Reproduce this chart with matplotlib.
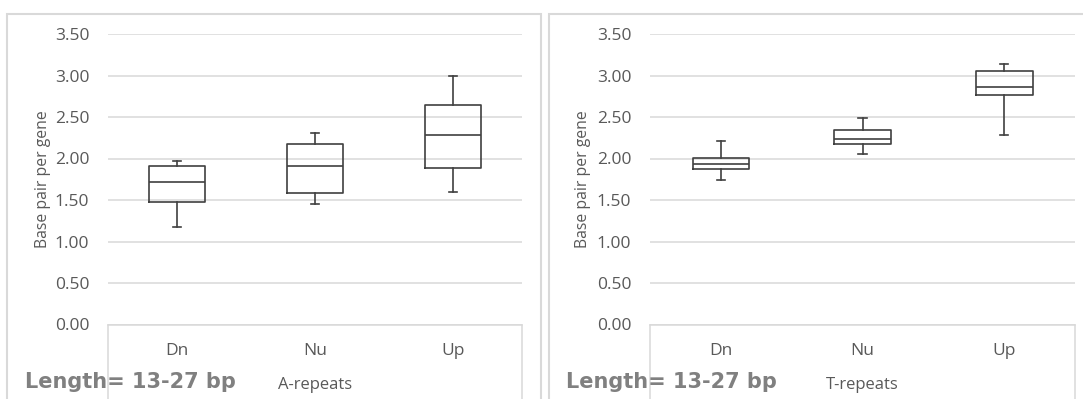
import matplotlib
matplotlib.use("Agg")
import matplotlib.pyplot as plt
from matplotlib.patches import Rectangle

# box-plot summaries per gene group (base pairs per gene)
GROUPS = ["Dn", "Nu", "Up"]

A_WHISLO = [1.18, 1.45, 1.60]
A_Q1 = [1.48, 1.59, 1.88]
A_MED = [1.72, 1.91, 2.28]
A_Q3 = [1.91, 2.17, 2.65]
A_WHISHI = [1.97, 2.31, 2.99]

T_WHISLO = [1.74, 2.06, 2.28]
T_Q1 = [1.87, 2.17, 2.77]
T_MED = [1.93, 2.24, 2.86]
T_Q3 = [2.01, 2.34, 3.06]
T_WHISHI = [2.21, 2.49, 3.14]

YTICKS = [0.0, 0.5, 1.0, 1.5, 2.0, 2.5, 3.0, 3.5]

GRID = "#d9d9d9"
TXT = "#595959"
BOX = "#404040"
NOTE = "#808080"

W, H = 1083, 399
plt.rcParams["font.family"] = ["Open Sans", "DejaVu Sans"]


def stats(lo, q1, med, q3, hi):
    return [dict(whislo=a, q1=b, med=c, q3=d, whishi=e, fliers=[])
            for a, b, c, d, e in zip(lo, q1, med, q3, hi)]


def panel(fig, rect_px, data, xlabel):
    x0, x1, ytop, ybot = rect_px
    ax = fig.add_axes([x0 / W, 1 - ybot / H, (x1 - x0) / W, (ybot - ytop) / H])
    line = dict(color=BOX, linewidth=1.2)
    ax.bxp(data, positions=range(len(GROUPS)), widths=0.4, capwidths=0.06,
           showfliers=False, boxprops=line, medianprops=line,
           whiskerprops=line, capprops=line)
    ax.set_xlim(-0.5, len(GROUPS) - 0.5)
    ax.set_ylim(0, 3.5)
    ax.set_yticks(YTICKS)
    ax.set_yticklabels(["%.2f" % v for v in YTICKS])
    ax.set_xticks(range(len(GROUPS)))
    ax.set_xticklabels(GROUPS)
    ax.tick_params(length=0, colors=TXT, labelsize=12.5)
    ax.tick_params(axis="y", pad=13.5)
    ax.tick_params(axis="x", pad=13.5)
    ax.grid(True, axis="y", color=GRID, linewidth=1.1)
    ax.set_axisbelow(True)
    for s in ax.spines.values():
        s.set_visible(False)
    # category-axis box running below the plot
    for xx in (0, 1):
        ax.plot([xx, xx], [0, -0.35], transform=ax.transAxes, color=GRID,
                lw=1.1, clip_on=False)
    ax.plot([0, 1], [0, 0], transform=ax.transAxes, color=GRID, lw=1.1,
            clip_on=False)
    ax.text(0.5, -0.208, xlabel, transform=ax.transAxes, ha="center",
            va="center", fontsize=12, color=TXT)
    ax.text(-0.158, 0.5, "Base pair per gene", transform=ax.transAxes,
            rotation=90, ha="center", va="center", fontsize=11.3, color=TXT)
    return ax


fig = plt.figure(figsize=(W / 100, H / 100), dpi=100)

# outer chart frames
for fx0, fx1 in ((7, 541), (549, 1100)):
    fig.patches.append(Rectangle((fx0 / W, -0.1), (fx1 - fx0) / W, 1.1 - 14 / H,
                                 transform=fig.transFigure, fill=False,
                                 edgecolor=GRID, linewidth=1.5))

panel(fig, (108, 522, 34, 324.5),
      stats(A_WHISLO, A_Q1, A_MED, A_Q3, A_WHISHI), "A-repeats")
panel(fig, (650, 1075, 34, 324.5),
      stats(T_WHISLO, T_Q1, T_MED, T_Q3, T_WHISHI), "T-repeats")

for tx in (25, 566):
    fig.text(tx / W, 1 - 388 / H, "Length= 13-27 bp", fontsize=15,
             fontweight="bold", family="DejaVu Sans", color=NOTE,
             ha="left", va="baseline")

fig.savefig("out.png", dpi=100)
